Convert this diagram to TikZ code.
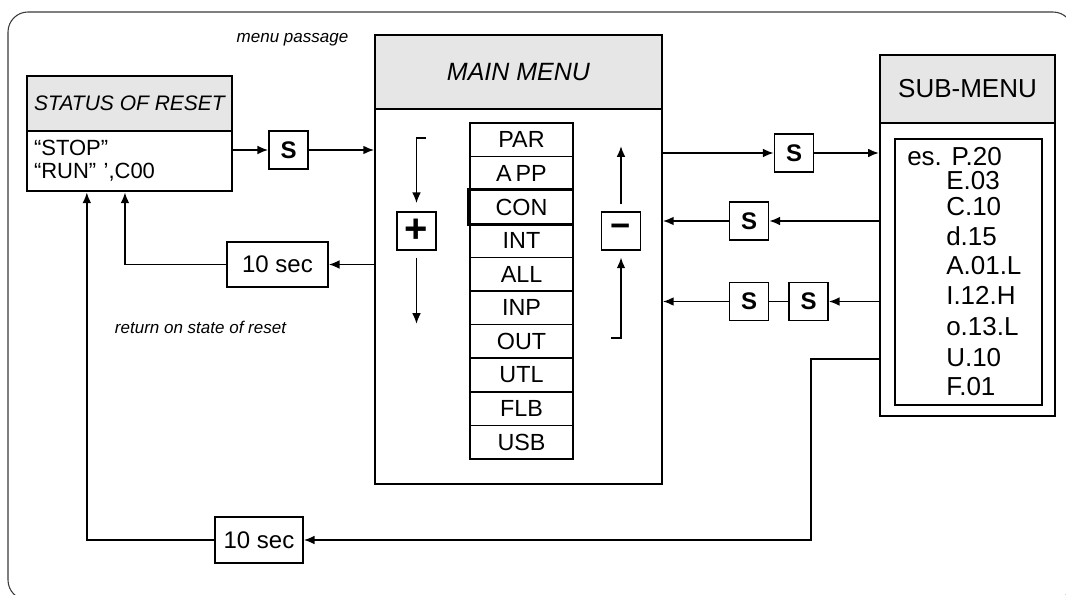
\documentclass[tikz,border=0pt]{standalone}
\usepackage{fontspec}
\setmainfont{Liberation Sans}
\definecolor{MenuGray}{HTML}{E6E6E6}
\definecolor{FrameGray}{HTML}{3A3A3A}
\usetikzlibrary{arrows.meta,calc}

\begin{document}
\begin{tikzpicture}[x=0.75pt,y=-0.75pt,
      box/.style={draw,line width=1.5pt,inner sep=0pt},
      head/.style={box,fill=MenuGray},
      row/.style={draw,line width=1.1pt,minimum width=77.25pt,minimum height=25.2pt,
                  inner sep=0pt,font={\fontsize{17.5}{18}\selectfont}},
      key/.style={box,line width=1.3pt,minimum width=29.25pt,minimum height=28.5pt,
                  font={\fontsize{18}{20}\selectfont\bfseries}},
      delay/.style={box,line width=1.3pt,minimum width=66pt,minimum height=34.5pt,
                  font={\fontsize{18}{20}\selectfont}},
      note/.style={inner sep=0pt,font={\fontsize{12.75}{14}\selectfont\itshape}},
      item/.style={anchor=base west,inner sep=0pt,font={\fontsize{19.5}{20}\selectfont}},
      flow/.style={-{Latex[length=8pt,width=6.5pt]},line width=1.1pt},
      link/.style={line width=1.1pt}]
    \useasboundingbox (0,0) rectangle (1066,595);
    \draw[FrameGray,line width=0.8pt,rounded corners=15pt] (8,12) rectangle (1073,600);
    % status of reset
    \node[head,line width=2.2pt,minimum width=153.75pt,minimum height=41.25pt,
          font={\fontsize{15.75}{17}\selectfont\itshape}] (sthead) at (129.5,103.5) {STATUS OF RESET};
    \node[box,line width=2.2pt,minimum width=153.75pt,minimum height=45pt,text width=143.25pt,
          inner xsep=5.25pt,align=left,font={\fontsize{16.5}{17.25}\selectfont}] (stbody) at (129.5,161)
          {“STOP”\\“RUN” ',C00};
    % main menu
    \node[head,minimum width=215.25pt,minimum height=55.5pt,
          font={\fontsize{18.75}{20}\selectfont\itshape}] (mhead) at (518.5,72) {MAIN MENU};
    \node[box,minimum width=215.25pt,minimum height=281.25pt] (mbody) at (518.5,296.5) {};
    \foreach \lbl [count=\i from 0] in {PAR,A\,PP,CON,INT,ALL,INP,OUT,UTL,FLB,USB}
      \node[row] (r\i) at (521.5,139.8+33.6*\i) {\lbl};
    \draw[line width=1.6pt] ([xshift=-0.75pt]r2.north west) rectangle ([xshift=-0.75pt]r2.south east);
    \node[key,font={\fontsize{30}{30}\selectfont\bfseries}] (plus) at (416.5,231) {+};
    \node[key,font={\fontsize{26}{26}\selectfont\bfseries}] (minus) at (621,231) {−};
    % sub-menu
    \node[head,line width=1.8pt,minimum width=131.25pt,minimum height=51pt,
          font={\fontsize{19.5}{21}\selectfont}] (shead) at (967.5,89) {SUB-MENU};
    \node[box,line width=1.8pt,minimum width=131.25pt,minimum height=219.75pt] (sbody) at (967.5,269.5) {};
    \node[box,line width=1.3pt,minimum width=110.25pt,minimum height=199.5pt] (slist) at (968.5,272) {};
    \node[item] (i0) at (907,166) {es. P.20};
    \foreach \txt/\y [count=\i] in {E.03/190,C.10/215,d.15/245,A.01.L/274,I.12.H/304,o.13.L/335,U.10/366,F.01/395}
      \node[item] (i\i) at (946,\y) {\txt};
    % keys and delays
    \node[key] (s1) at (288.5,150) {S};
    \node[key] (s2) at (794,153) {S};
    \node[key] (s3) at (749,221) {S};
    \node[key] (s4a) at (749,301.5) {S};
    \node[key] (s4b) at (808.5,301.5) {S};
    \node[delay,minimum width=75.75pt,minimum height=33.75pt] (t1) at (277.5,264.5) {10 sec};
    \node[delay] (t2) at (259,540) {10 sec};
    \node[note] (lpass) at (292.5,40) {menu passage};
    \node[note] (lret) at (200.5,327) {return on state of reset};
    % connectors
    \draw[flow] (s1 -| stbody.east) -- (s1);
    \draw[flow] (s1) -- (s1 -| mbody.west);
    \draw[flow] (s2 -| mbody.east) -- (s2);
    \draw[flow] (s2) -- (s2 -| sbody.west);
    \draw[flow] (s3 -| sbody.west) -- (s3);
    \draw[flow] (s3) -- (s3 -| mbody.east);
    \draw[flow] (s4b -| sbody.west) -- (s4b);
    \draw[link] (s4b) -- (s4a);
    \draw[flow] (s4a) -- (s4a -| mbody.east);
    \draw[flow] (t1 -| mbody.west) -- (t1);
    \draw[flow] (t1) -| ([xshift=-3.4pt]stbody.south);
    \draw[flow] ([yshift=-67.1pt]sbody.west) -- ++(-68,0) |- (t2);
    \draw[flow] (t2) -| ([xshift=-32pt]stbody.south);
    \draw[flow] ([xshift=6.75pt,yshift=54.75pt]plus.north) -| ([yshift=6pt]plus.north);
    \draw[flow] ([yshift=-5pt]plus.south) -- ([yshift=-54.75pt]plus.south);
    \draw[flow] ([yshift=5pt]minus.north) -- ([yshift=48.75pt]minus.north);
    \draw[flow] ([xshift=-7.5pt,yshift=-65.25pt]minus.south) -| ([yshift=-5pt]minus.south);
  \end{tikzpicture}
\end{document}
